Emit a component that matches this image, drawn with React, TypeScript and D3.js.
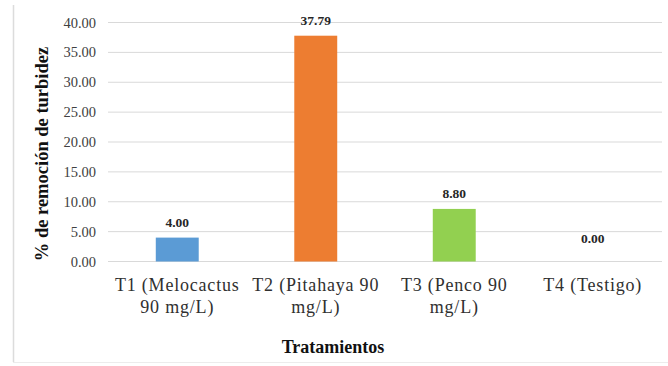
import React from "react";
import * as d3 from "d3";

const categories = [
  ["T1 (Melocactus", "90 mg/L)"],
  ["T2 (Pitahaya 90", "mg/L)"],
  ["T3 (Penco 90", "mg/L)"],
  ["T4 (Testigo)"],
];
const values = [4.0, 37.79, 8.8, 0.0];
const colors = ["#5b9bd5", "#ed7d31", "#92d050", "#a5a5a5"];
const yTicks = [0, 5, 10, 15, 20, 25, 30, 35, 40];
const yTitle = "% de remoción de turbidez";
const xTitle = "Tratamientos";

const W = 668;
const H = 366;
const FONT = "Liberation Serif, Times New Roman, serif";

export default function App() {
  const x = d3
    .scaleBand<number>()
    .domain(categories.map((_, i) => i))
    .range([108, 662])
    .paddingInner(0.69)
    .paddingOuter(0.345);
  const y = d3.scaleLinear().domain([0, 40]).range([261.5, 22.5]);
  const ts = { fontFamily: FONT };

  return (
    <svg
      width={W}
      height={H}
      style={{ position: "fixed", left: 0, top: 0, background: "#fff", fontFamily: FONT }}
    >
      <rect x={0} y={0} width={W} height={H} fill="#fff" />
      <line x1={13.5} x2={13.5} y1={5} y2={362} stroke="#dcdcdc" strokeWidth={1.5} />
      <line x1={13} x2={W} y1={362.5} y2={362.5} stroke="#ececec" strokeWidth={1} />
      {yTicks.map((t) => (
        <g key={t}>
          <line x1={108} x2={662} y1={y(t)} y2={y(t)} stroke="#d9d9d9" strokeWidth={1} />
          <text
            x={96}
            y={y(t)}
            dy="0.35em"
            textAnchor="end"
            fontSize={14.5}
            fill="#404040"
            style={ts}
          >
            {d3.format(".2f")(t)}
          </text>
        </g>
      ))}
      {values.map((v, i) => (
        <g key={i}>
          <rect
            x={x(i)}
            y={y(v)}
            width={x.bandwidth()}
            height={y(0) - y(v)}
            fill={colors[i]}
          />
          <text
            x={(x(i) as number) + x.bandwidth() / 2}
            y={y(v) - (v === 0 ? 19 : 10.5)}
            textAnchor="middle"
            fontSize={13.5}
            fontWeight="bold"
            fill="#262626"
            style={ts}
          >
            {d3.format(".2f")(v)}
          </text>
        </g>
      ))}
      {categories.map((lines, i) => (
        <text
          key={i}
          x={(x(i) as number) + x.bandwidth() / 2}
          textAnchor="middle"
          fontSize={18}
          fill="#303030"
          letterSpacing={0.8}
          style={ts}
        >
          {lines.map((l, j) => (
            <tspan key={j} x={(x(i) as number) + x.bandwidth() / 2} y={291 + j * 22}>
              {l}
            </tspan>
          ))}
        </text>
      ))}
      <text
        x={333}
        y={353}
        textAnchor="middle"
        fontSize={18}
        fontWeight="bold"
        fill="#111"
        style={ts}
      >
        {xTitle}
      </text>
      <text
        transform={`translate(48, ${(y(0) + y(40)) / 2 + 12}) rotate(-90)`}
        textAnchor="middle"
        fontSize={18.5}
        fontWeight="bold"
        fill="#111"
        style={ts}
      >
        {yTitle}
      </text>
    </svg>
  );
}
